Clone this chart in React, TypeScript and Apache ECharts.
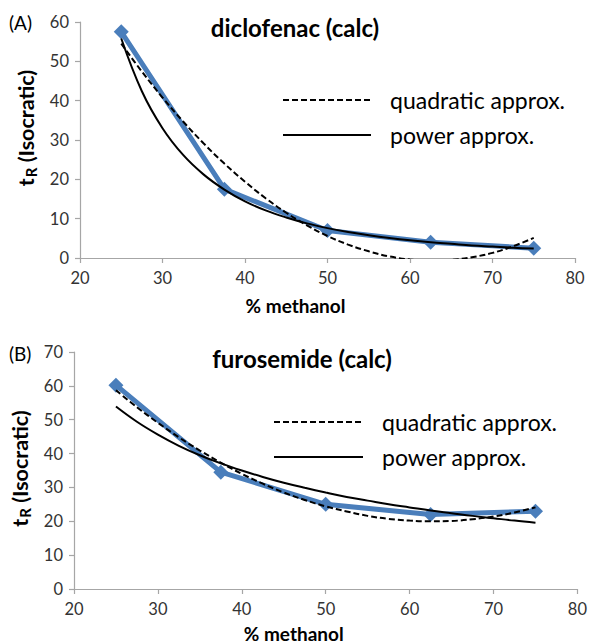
import React, { useEffect, useRef } from "react";
import * as echarts from "echarts";

const methanolPct = [25, 37.5, 50, 62.5, 75];
const diclofenacTr = [57.5, 17.5, 7, 4, 2.5];
const furosemideTr = [60.2, 34.5, 25, 22, 23];

const fitX = [25, 27.5, 30, 32.5, 35, 37.5, 40, 42.5, 45, 47.5, 50, 52.5, 55, 57.5, 60, 62.5, 65, 67.5, 70, 72.5, 75];
const diclofenacQuad = [54.5, 47.4, 40.8, 34.7, 29.1, 24.0, 19.4, 15.2, 11.5, 8.3, 5.6, 3.4, 1.7, 0.4, -0.4, -0.7, -0.5, 0.2, 1.3, 3.0, 5.1];
const diclofenacPower = [55.8, 42.4, 33.0, 26.2, 21.2, 17.4, 14.4, 12.1, 10.3, 8.8, 7.6, 6.6, 5.8, 5.1, 4.5, 4.0, 3.6, 3.2, 2.9, 2.6, 2.4];
const furosemideQuad = [58.7, 53.7, 49.1, 44.8, 40.9, 37.3, 34.0, 31.1, 28.5, 26.3, 24.4, 22.9, 21.6, 20.7, 20.2, 20.0, 20.1, 20.6, 21.4, 22.6, 24.1];
const furosemidePower = [53.9, 49.4, 45.6, 42.3, 39.5, 37.1, 35.0, 33.1, 31.4, 29.9, 28.5, 27.2, 26.1, 25.0, 24.1, 23.2, 22.4, 21.6, 20.9, 20.2, 19.6];

const xTicks = { min: 20, max: 80, interval: 10 };
const yMaxA = 60;
const yMaxB = 70;

const FONT = "Lato";
const BLUE = "#4a7ebb";
const AXIS_GRAY = "#a6a6a6";

const pairs = (xs: number[], ys: number[]) => xs.map((x, i) => [x, ys[i]]);

export default function App() {
  const ref = useRef<HTMLDivElement>(null);
  useEffect(() => {
    if (!ref.current) return;
    const chart = echarts.init(ref.current, null, { renderer: "svg" });

    const xAxisBase = (gridIndex: number, nameGap: number, shiftLeft: number) => ({
      type: "value",
      gridIndex,
      min: xTicks.min,
      max: xTicks.max,
      interval: xTicks.interval,
      name: "% methanol",
      nameLocation: "middle",
      nameGap,
      nameTextStyle: { fontFamily: FONT, fontSize: 19, fontWeight: "bold", color: "#000", padding: [0, shiftLeft * 2, 0, 0] },
      axisLine: { show: true, lineStyle: { color: AXIS_GRAY, width: 1.2 } },
      axisTick: { show: true, length: 5, lineStyle: { color: AXIS_GRAY, width: 1.2 } },
      axisLabel: { fontFamily: FONT, fontSize: 16.5, color: "#333", margin: 11 },
      splitLine: { show: false },
    });

    const yAxisBase = (gridIndex: number, max: number, shiftUp: number) => ({
      type: "value",
      gridIndex,
      min: 0,
      max,
      interval: 10,
      name: "{t|t}{s|R}{t| (Isocratic)}",
      nameLocation: "middle",
      nameGap: 36,
      nameRotate: 90,
      nameTextStyle: {
        fontFamily: FONT,
        color: "#000",
        padding: [0, 0, 0, shiftUp * 2],
        rich: {
          t: { fontFamily: FONT, fontSize: 21.5, fontWeight: "bold", color: "#000" },
          s: { fontFamily: FONT, fontSize: 15, fontWeight: "bold", color: "#000", padding: [10, 0, 0, 1] },
        },
      },
      axisLine: { show: true, lineStyle: { color: AXIS_GRAY, width: 1.2 } },
      axisTick: { show: true, length: 5, lineStyle: { color: AXIS_GRAY, width: 1.2 } },
      axisLabel: { fontFamily: FONT, fontSize: 16.5, color: "#333", margin: 11 },
      splitLine: { show: false },
    });

    const seriesFor = (idx: number, data: number[], quad: number[], power: number[]) => [
      {
        type: "line",
        xAxisIndex: idx,
        yAxisIndex: idx,
        data: pairs(methanolPct, data),
        lineStyle: { color: BLUE, width: 5 },
        itemStyle: { color: BLUE },
        symbol: "diamond",
        symbolSize: 15,
        showSymbol: true,
        z: 2,
      },
      {
        type: "line",
        xAxisIndex: idx,
        yAxisIndex: idx,
        data: pairs(fitX, quad),
        smooth: 0.4,
        showSymbol: false,
        symbol: "none",
        lineStyle: { color: "#000", width: 2, type: [6, 3] },
        z: 3,
      },
      {
        type: "line",
        xAxisIndex: idx,
        yAxisIndex: idx,
        data: pairs(fitX, power),
        smooth: 0.4,
        showSymbol: false,
        symbol: "none",
        lineStyle: { color: "#000", width: 2 },
        z: 3,
      },
    ];

    const legendGraphic = (x1: number, x2: number, yq: number, yp: number, tx: number) => [
      { type: "line", shape: { x1, y1: yq, x2, y2: yq }, style: { stroke: "#000", lineWidth: 2, lineDash: [6, 3] } },
      { type: "line", shape: { x1, y1: yp, x2, y2: yp }, style: { stroke: "#000", lineWidth: 2 } },
      { type: "text", x: tx, y: yq, style: { text: "quadratic approx.", fontFamily: FONT, fontSize: 23, fill: "#000", verticalAlign: "middle" } },
      { type: "text", x: tx, y: yp, style: { text: "power approx.", fontFamily: FONT, fontSize: 23, fill: "#000", verticalAlign: "middle" } },
    ];

    chart.setOption({
      animation: false,
      backgroundColor: "#fff",
      title: [
        { text: "diclofenac (calc)", left: 290, top: 10, textAlign: "center", textStyle: { fontFamily: FONT, fontSize: 24, fontWeight: "bold", color: "#000" } },
        { text: "furosemide (calc)", left: 297, top: 341, textAlign: "center", textStyle: { fontFamily: FONT, fontSize: 24, fontWeight: "bold", color: "#000" } },
      ],
      grid: [
        { left: 80, top: 22, width: 495, height: 236 },
        { left: 74, top: 352, width: 507, height: 240 },
      ],
      xAxis: [xAxisBase(0, 38, 32), xAxisBase(1, 35, 32)],
      yAxis: [yAxisBase(0, yMaxA, 12), yAxisBase(1, yMaxB, 2)],
      series: [
        ...seriesFor(0, diclofenacTr, diclofenacQuad, diclofenacPower),
        ...seriesFor(1, furosemideTr, furosemideQuad, furosemidePower),
      ],
      graphic: [
        { type: "text", x: 9, y: 22, style: { text: "(A)", fontFamily: FONT, fontSize: 19, fill: "#000", verticalAlign: "middle" } },
        { type: "text", x: 9, y: 353, style: { text: "(B)", fontFamily: FONT, fontSize: 19, fill: "#000", verticalAlign: "middle" } },
        ...legendGraphic(283, 371, 100, 135, 390),
        ...legendGraphic(274, 363, 422, 457, 382),
      ],
    });
    return () => chart.dispose();
  }, []);
  return <div ref={ref} style={{ position: "absolute", left: 0, top: 0, width: 590, height: 644 }} />;
}
